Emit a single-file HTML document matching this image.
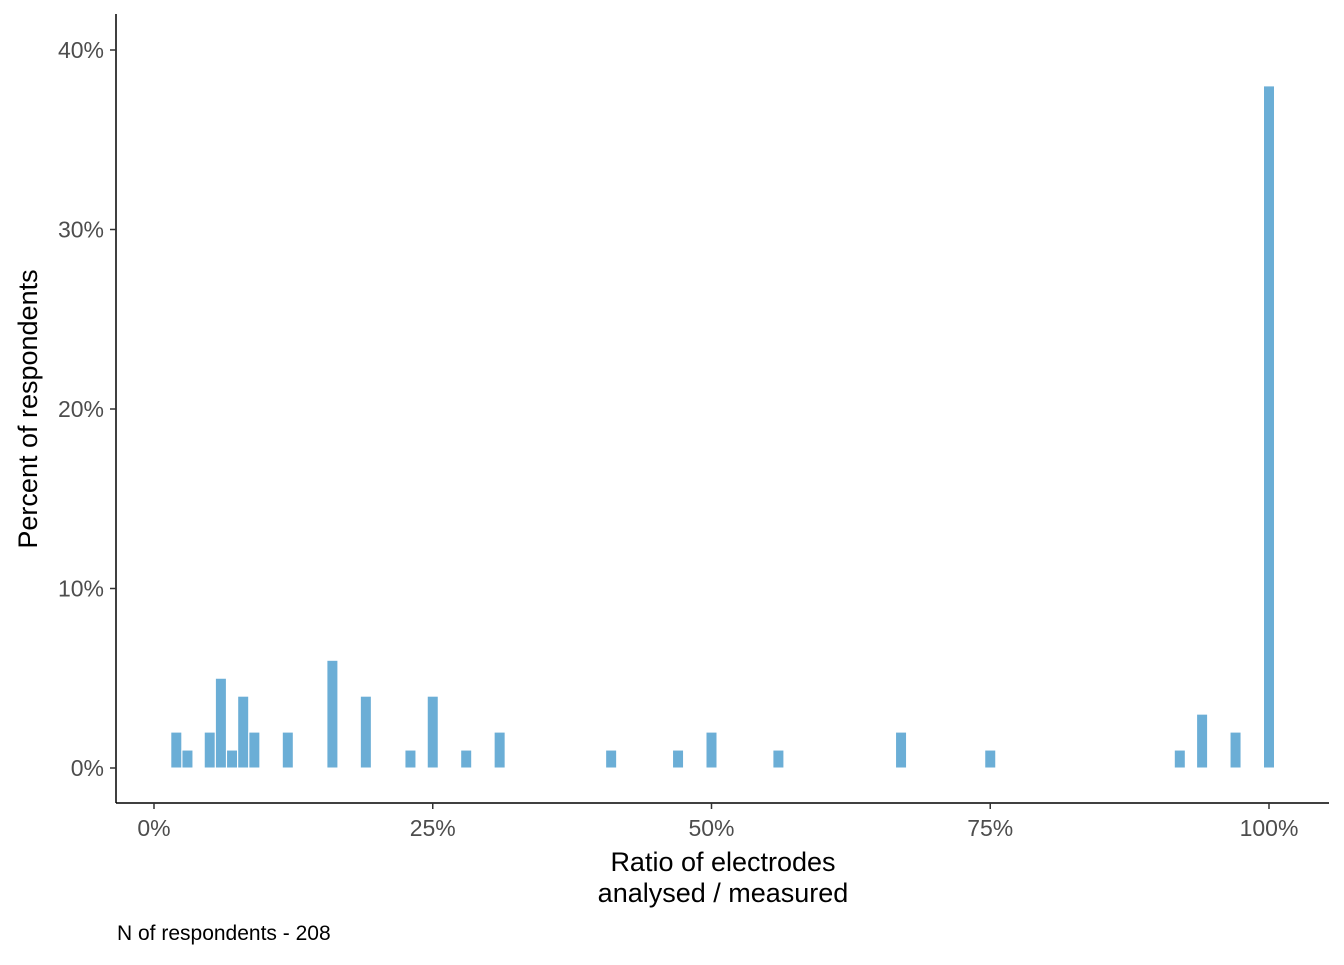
<!DOCTYPE html>
<html><head><meta charset="utf-8"><style>
body{margin:0;background:#fff;}
svg text{font-family:"Liberation Sans",sans-serif;}
</style></head><body>
<svg width="1344" height="960" xmlns="http://www.w3.org/2000/svg">
<g id="bars"></g>
<g id="axes"></g>
<text x="723" y="871" font-size="27" text-anchor="middle" fill="#000">Ratio of electrodes</text>
<text x="723" y="902" font-size="27" text-anchor="middle" fill="#000">analysed / measured</text>
<text transform="translate(37,409) rotate(-90)" font-size="27" text-anchor="middle" fill="#000">Percent of respondents</text>
<text x="117" y="940" font-size="21" fill="#000">N of respondents - 208</text>
</svg>
<script>
const ratios=[2,3,5,6,7,8,9,12,16,19,23,25,28,31,41,47,50,56,67,75,92,94,97,100];
const percents=[2,1,2,5,1,4,2,2,6,4,1,4,1,2,1,1,2,1,2,1,1,3,2,38];
const xTicks=[0,25,50,75,100];
const yTicks=[0,10,20,30,40];
const NS="http://www.w3.org/2000/svg";
const xs=v=>154+v*11.15;
const ys=v=>768-v*17.95;
const bars=document.getElementById('bars'),axes=document.getElementById('axes');
function mk(t,a,p){const e=document.createElementNS(NS,t);for(const k in a)e.setAttribute(k,a[k]);p.appendChild(e);return e;}
ratios.forEach((r,i)=>{
 const b=mk('rect',{x:xs(r)-5.5,y:ys(percents[i]),width:11,height:ys(0)-ys(percents[i]),fill:'#6baed6',stroke:'#fff','stroke-width':1},bars);
 
 
});
mk('line',{x1:116,y1:14,x2:116,y2:803,stroke:'#000','stroke-width':1.5},axes);
mk('line',{x1:116,y1:803,x2:1329,y2:803,stroke:'#000','stroke-width':1.5},axes);
yTicks.forEach(v=>{
 mk('line',{x1:110,y1:ys(v),x2:116,y2:ys(v),stroke:'#333','stroke-width':1.5},axes);
 const t=mk('text',{x:104,y:ys(v)+8,'font-size':23,'text-anchor':'end',fill:'#4d4d4d'},axes);
 t.textContent=v+'%';
 
 
});
xTicks.forEach(v=>{
 mk('line',{x1:xs(v),y1:803,x2:xs(v),y2:809,stroke:'#333','stroke-width':1.5},axes);
 const t=mk('text',{x:xs(v),y:836,'font-size':23,'text-anchor':'middle',fill:'#4d4d4d'},axes);
 t.textContent=v+'%';
 
 
});
</script>
</body></html>
